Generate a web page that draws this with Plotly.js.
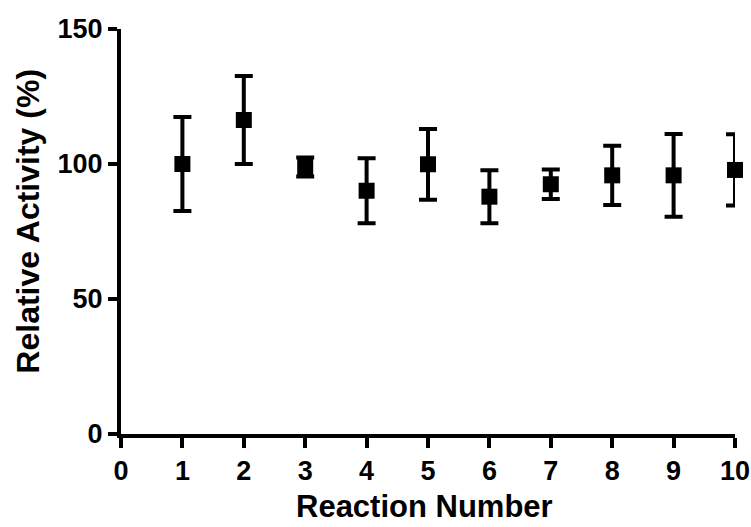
<!DOCTYPE html>
<html>
<head>
<meta charset="utf-8">
<script src="https://cdn.plot.ly/plotly-3.0.1.min.js"></script>
<style>html,body{margin:0;padding:0;background:#fff;}#chart{width:751px;height:527px;}</style>
</head>
<body>
<div id="chart"></div>
<script>
const reactionNumber = [1, 2, 3, 4, 5, 6, 7, 8, 9, 10];
const relativeActivity = [100, 116.3, 98.9, 90.1, 99.9, 87.9, 92.5, 95.8, 95.8, 97.8];
const errorSD = [17.4, 16.3, 3.5, 12.0, 13.1, 9.8, 5.5, 11.0, 15.3, 13.2];
const xTicks = [0, 1, 2, 3, 4, 5, 6, 7, 8, 9, 10];
const yTicks = [0, 50, 100, 150];

const fontFam = '"Liberation Sans", Arial, Helvetica, sans-serif';

const trace = {
  x: reactionNumber,
  y: relativeActivity,
  type: 'scatter',
  mode: 'markers',
  marker: {symbol: 'square', size: 16, color: '#000'},
  error_y: {type: 'data', array: errorSD, visible: true, color: '#000', thickness: 4, width: 9},
  showlegend: false,
  cliponaxis: false
};

const layout = {
  width: 751, height: 527,
  margin: {l: 121, r: 16, t: 29, b: 93},
  paper_bgcolor: '#fff', plot_bgcolor: '#fff',
  font: {family: fontFam, color: '#000'},
  xaxis: {
    range: [0, 10], tickvals: xTicks, ticktext: xTicks.map(String),
    showgrid: false, zeroline: false, showline: true, linewidth: 4, linecolor: '#000',
    ticks: 'outside', ticklen: 10, tickwidth: 4, tickcolor: '#000',
    tickfont: {size: 27, weight: 'bold', family: fontFam}, automargin: false
  },
  yaxis: {
    range: [0, 150], tickvals: yTicks, ticktext: yTicks.map(String),
    showgrid: false, zeroline: false, showline: true, linewidth: 4, linecolor: '#000',
    ticks: 'outside', ticklen: 9, tickwidth: 4, tickcolor: '#000',
    tickfont: {size: 27, weight: 'bold', family: fontFam}, automargin: false
  },
  annotations: [
    {text: 'Reaction Number', xref: 'paper', yref: 'paper', x: 0.495, y: -0.178,
     xanchor: 'center', yanchor: 'middle', showarrow: false,
     font: {size: 31, weight: 'bold', family: fontFam, color: '#000'}},
    {text: 'Relative Activity (%)', xref: 'paper', yref: 'paper', x: -0.152, y: 0.526,
     xanchor: 'center', yanchor: 'middle', showarrow: false, textangle: -90,
     font: {size: 32, weight: 'bold', family: fontFam, color: '#000'}}
  ]
};

Plotly.newPlot('chart', [trace], layout, {displayModeBar: false, staticPlot: true});
</script>
</body>
</html>
